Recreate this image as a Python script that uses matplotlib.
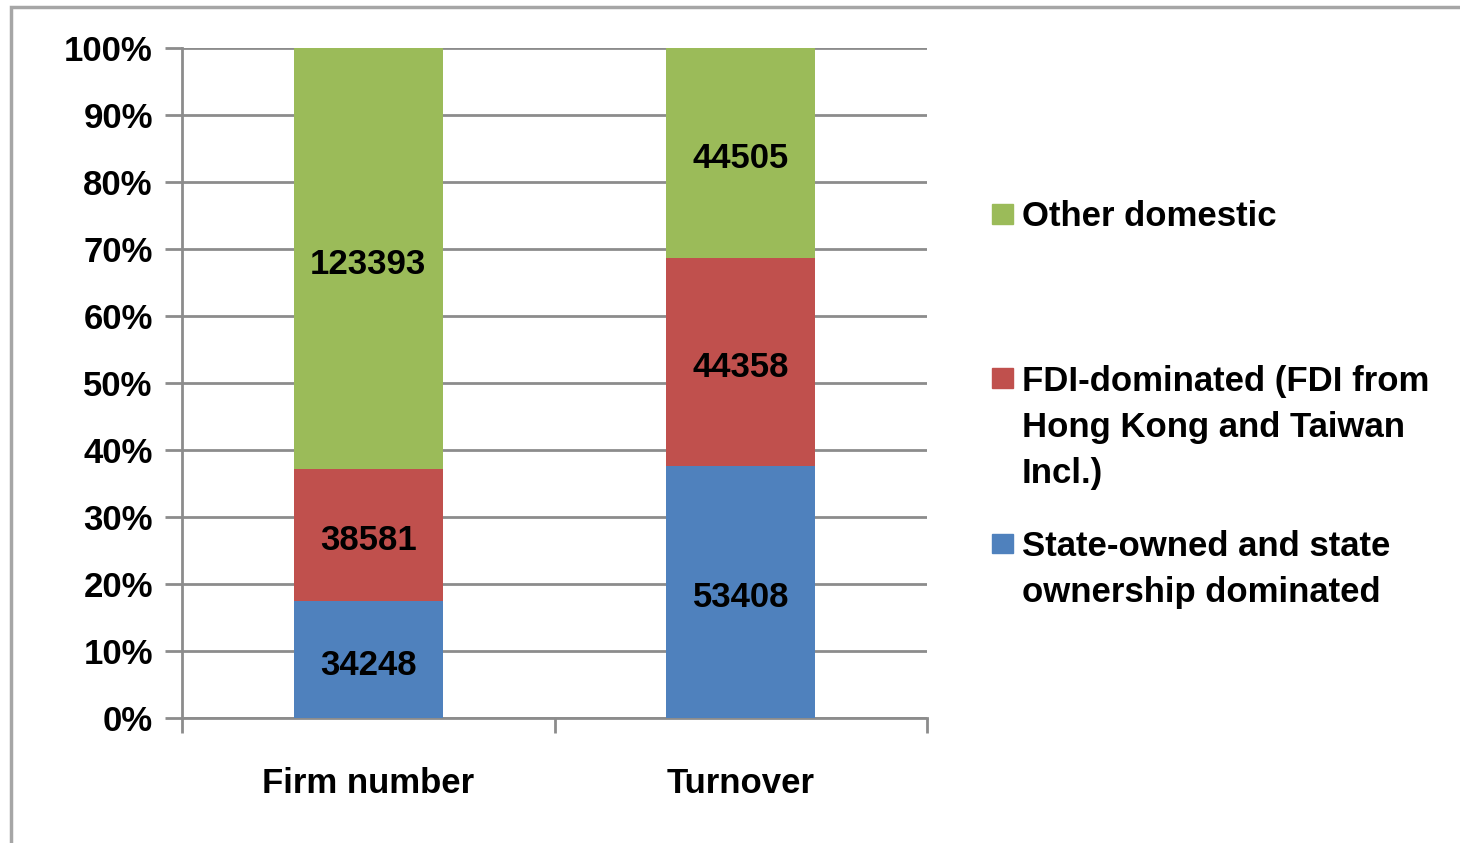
import matplotlib
matplotlib.use("Agg")
import matplotlib.pyplot as plt
from matplotlib.patches import Rectangle
import numpy as np

categories = ["Firm number", "Turnover"]
state_owned = [34248, 53408]
fdi_dominated = [38581, 44358]
other_domestic = [123393, 44505]
series_labels = ["State-owned and state\nownership dominated",
                 "FDI-dominated (FDI from\nHong Kong and Taiwan\nIncl.)",
                 "Other domestic"]
colors = ["#4F81BD", "#C0504D", "#9BBB59"]
ytick_labels = ["0%", "10%", "20%", "30%", "40%", "50%", "60%", "70%", "80%", "90%", "100%"]

plt.rcParams['font.family'] = ['Liberation Sans', 'DejaVu Sans']
plt.rcParams['font.weight'] = 'bold'
FS = 25

W, H = 1460, 843
fig = plt.figure(figsize=(W/100, H/100), dpi=100)
ax = fig.add_axes([182/W, 1 - 718/H, 745/W, 670/H])

# outer border
fig.patches.append(Rectangle((11/W, -0.1), 1.2, 1 - 7/H + 0.1, transform=fig.transFigure,
                             fill=False, edgecolor="#a6a6a6", linewidth=2.5, zorder=0))

series = [state_owned, fdi_dominated, other_domestic]
totals = np.sum(np.array(series, dtype=float), axis=0)
x = np.arange(len(categories))
bottom = np.zeros(len(categories))
for vals, col in zip(series, colors):
    pct = np.array(vals, dtype=float) / totals * 100
    ax.bar(x, pct, bottom=bottom, width=0.4, color=col, zorder=3)
    for xi, p, b, v in zip(x, pct, bottom, vals):
        ax.annotate(str(v), (xi, b + p / 2), xytext=(0, -4), textcoords="offset points",
                    ha="center", va="center", fontsize=FS, fontweight="bold",
                    color="black", zorder=4)
    bottom += pct

ax.set_xlim(-0.5, 1.5)
ax.set_ylim(0, 100)
ax.set_yticks(np.arange(0, 101, 10))
ax.set_yticklabels(ytick_labels, fontsize=FS, fontweight="bold")
ax.yaxis.grid(True, color="#8c8c8c", linewidth=2, zorder=0)
ax.set_axisbelow(True)
ax.tick_params(axis="y", length=12, width=2, color="#8c8c8c", pad=9)

ax.set_xticks(x)
ax.set_xticklabels(categories, fontsize=FS, fontweight="bold")
ax.tick_params(axis="x", which="major", length=0, pad=35)
ax.set_xticks([-0.5, 0.5, 1.5], minor=True)
ax.tick_params(axis="x", which="minor", length=11, width=2, color="#8c8c8c")

for s in ["top", "right"]:
    ax.spines[s].set_visible(False)
for s in ["left", "bottom"]:
    ax.spines[s].set_color("#8c8c8c")
    ax.spines[s].set_linewidth(2)

# legend (manual, top to bottom)
legend_items = [(2, 214, ["Other domestic"]),
                (1, 378, ["FDI-dominated (FDI from", "Hong Kong and Taiwan", "Incl.)"]),
                (0, 543, ["State-owned and state", "ownership dominated"])]
for idx, yc, lines in legend_items:
    fig.patches.append(Rectangle((992/W, 1 - (yc + 9.5)/H), 21/W, 19/H,
                                 transform=fig.transFigure, color=colors[idx]))
    for i, ln in enumerate(lines):
        fig.text(1022/W, 1 - (yc + 12.5 + i * 46.5)/H, ln, fontsize=FS,
                 fontweight="bold", ha="left", va="baseline")

fig.savefig("out.png", dpi=100)
